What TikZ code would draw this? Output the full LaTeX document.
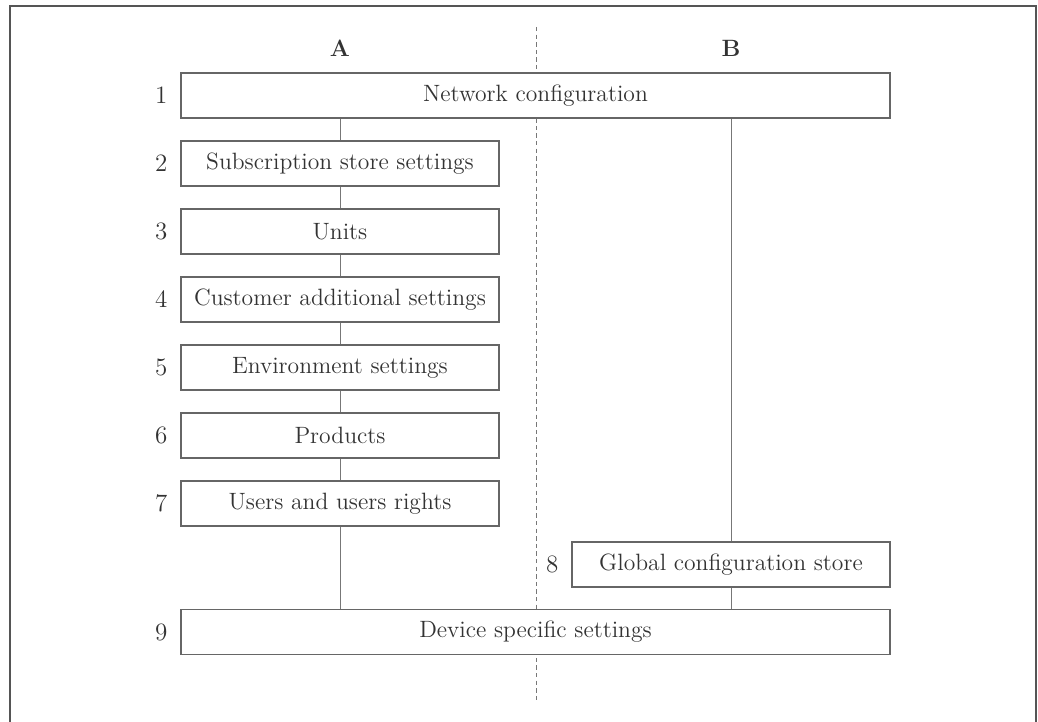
\documentclass[tikz,border=0pt]{standalone}
\usepackage{tikz}
\usetikzlibrary{positioning,calc}

\definecolor{framegray}{HTML}{555555}
\definecolor{boxgray}{HTML}{666666}
\definecolor{linegray}{HTML}{777777}
\definecolor{textgray}{HTML}{333333}

\tikzset{
	stepbox/.style={draw=boxgray, line width=.6pt, fill=white, text=textgray,
		minimum height=22.5pt, inner sep=0pt, font=\fontsize{11.8}{13}\selectfont},
	narrowbox/.style={stepbox, minimum width=159pt},
	widebox/.style={stepbox, minimum width=354.5pt},
	numlabel/.style={text=textgray, font=\fontsize{12.5}{14}\selectfont},
	collabel/.style={text=textgray, font=\fontsize{11.8}{13}\selectfont\bfseries},
	link/.style={draw=linegray, line width=.5pt}
}

\begin{document}
\begin{tikzpicture}[x=.5pt, y=-.5pt]
		\useasboundingbox (0,0) rectangle (1038,722);
		% frame, open at the bottom
		\draw[framegray, line width=1pt] (9.5,722) -- (9.5,6) -- (1036,6) -- (1036,722);
		% divider between A and B
		\coordinate (divtop) at (536.5,27);
		\coordinate (divbot) at (536.5,700);
		\draw[linegray, line width=.5pt, dash pattern=on 2.2pt off 1.6pt] (divtop) -- (divbot);
		% column heads
		\node [collabel] (colA) at (340,48)	{A};
		\node [collabel] (colB) at (731,48)	{B};
		% boxes
		\node [widebox] (b1) at (535.5,95.5)	{Network configuration};
		\node [narrowbox] (b2) at (340,163.5)	{Subscription store settings};
		\node [narrowbox] (b3) at (340,231.5)	{Units};
		\node [narrowbox] (b4) at (340,299.5)	{Customer additional settings};
		\node [narrowbox] (b5) at (340,367.5)	{Environment settings};
		\node [narrowbox] (b6) at (340,435.5)	{Products};
		\node [narrowbox] (b7) at (340,503.5)	{Users and users rights};
		\node [narrowbox] (b8) at (731,564.5)	{Global configuration store};
		\node [widebox] (b9) at (535.5,632)	{Device specific settings};
		% numbers
		\node [numlabel, left=3pt of b1] (n1) {1};
		\node [numlabel, left=3pt of b2] (n2) {2};
		\node [numlabel, left=3pt of b3] (n3) {3};
		\node [numlabel, left=3pt of b4] (n4) {4};
		\node [numlabel, left=3pt of b5] (n5) {5};
		\node [numlabel, left=3pt of b6] (n6) {6};
		\node [numlabel, left=3pt of b7] (n7) {7};
		\node [numlabel, left=3pt of b8] (n8) {8};
		\node [numlabel, left=3pt of b9] (n9) {9};
		% links
		\draw[link] (b1.south -| b2.north) -- (b2.north);
		\draw[link] (b2) -- (b3);
		\draw[link] (b3) -- (b4);
		\draw[link] (b4) -- (b5);
		\draw[link] (b5) -- (b6);
		\draw[link] (b6) -- (b7);
		\draw[link] (b7.south) -- (b7.south |- b9.north);
		\draw[link] (b1.south -| b8.north) -- (b8.north);
		\draw[link] (b8) -- (b8.south |- b9.north);
\end{tikzpicture}
\end{document}
